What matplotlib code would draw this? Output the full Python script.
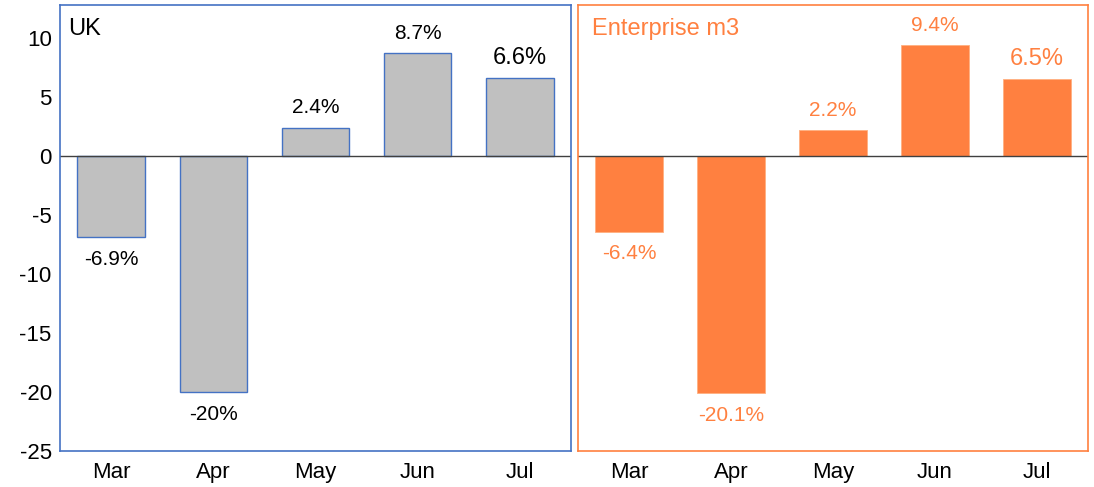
import numpy as np
import matplotlib
matplotlib.use('Agg')
import matplotlib.pyplot as plt

plt.rcParams['font.family'] = ['Liberation Sans', 'DejaVu Sans']
plt.rcParams['axes.unicode_minus'] = False

months = ['Mar', 'Apr', 'May', 'Jun', 'Jul']
uk_vals = [-6.9, -20.0, 2.4, 8.7, 6.6]
uk_labels = ['-6.9%', '-20%', '2.4%', '8.7%', '6.6%']
ent_vals = [-6.4, -20.1, 2.2, 9.4, 6.5]
ent_labels = ['-6.4%', '-20.1%', '2.2%', '9.4%', '6.5%']

blue = '#4472C4'
orange = '#FF8040'
grey = '#C0C0C0'

fig = plt.figure(figsize=(10.94, 4.87), dpi=100)
ax1 = fig.add_axes([60/1094, 36/487, 511/1094, 446/487])
ax2 = fig.add_axes([578/1094, 36/487, 510/1094, 446/487])

x = np.arange(len(months))
ax1.bar(x, uk_vals, width=0.66, color=grey, edgecolor=blue, linewidth=1)
ax2.bar(x, ent_vals, width=0.66, color=orange, edgecolor='#FFB080', linewidth=0.6)

# data labels
sizes = [15, 15, 15, 15, 17]
for ax, vals, labs, col in [(ax1, uk_vals, uk_labels, 'black'), (ax2, ent_vals, ent_labels, orange)]:
    for i, (v, t) in enumerate(zip(vals, labs)):
        dy = 20 if v > 0 else -22
        ax.annotate(t, (i, v), xytext=(0, dy), textcoords='offset pixels',
                    ha='center', va='center', fontsize=sizes[i], color=col)

for ax, col in [(ax1, blue), (ax2, orange)]:
    ax.set_xlim(-0.5, 4.5)
    ax.set_ylim(-25, 12.8)
    ax.axhline(0, color='#404040', linewidth=1)
    ax.set_xticks(x)
    ax.set_xticklabels(months, fontsize=16)
    ax.tick_params(length=0, pad=8)
    for s in ax.spines.values():
        s.set_color(col)
        s.set_linewidth(1.2)

ax1.set_yticks([10, 5, 0, -5, -10, -15, -20, -25])
ax1.tick_params(axis='y', labelsize=16, pad=6)
ax2.set_yticks([])

ax1.text(0.015, 0.97, 'UK', transform=ax1.transAxes, fontsize=17, va='top', ha='left')
ax2.text(0.027, 0.97, 'Enterprise m3', transform=ax2.transAxes, fontsize=17,
         va='top', ha='left', color=orange)

fig.savefig('out.png', dpi=100)
